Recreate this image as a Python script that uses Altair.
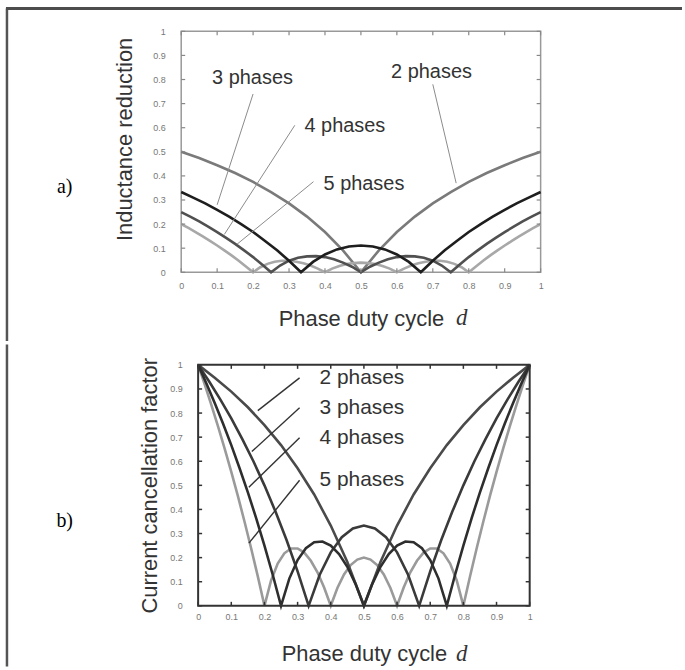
import altair as alt
import pandas as pd

# ---------------- data ----------------
tick_vals = [0, 0.1, 0.2, 0.3, 0.4, 0.5, 0.6, 0.7, 0.8, 0.9, 1]

d2 = [0, 0.05, 0.1, 0.15, 0.2, 0.25, 0.3, 0.35, 0.4, 0.45, 0.5,
      0.55, 0.6, 0.65, 0.7, 0.75, 0.8, 0.85, 0.9, 0.95, 1]
d3 = [0, 0.0333, 0.0667, 0.1, 0.1333, 0.1667, 0.2, 0.2333, 0.2667, 0.3, 0.3333,
      0.3667, 0.4, 0.4333, 0.4667, 0.5, 0.5333, 0.5667, 0.6, 0.6333, 0.6667,
      0.7, 0.7333, 0.7667, 0.8, 0.8333, 0.8667, 0.9, 0.9333, 0.9667, 1]
d4 = [0, 0.025, 0.05, 0.075, 0.1, 0.125, 0.15, 0.175, 0.2, 0.225, 0.25,
      0.275, 0.3, 0.325, 0.35, 0.375, 0.4, 0.425, 0.45, 0.475, 0.5,
      0.525, 0.55, 0.575, 0.6, 0.625, 0.65, 0.675, 0.7, 0.725, 0.75,
      0.775, 0.8, 0.825, 0.85, 0.875, 0.9, 0.925, 0.95, 0.975, 1]
d5 = [0, 0.02, 0.04, 0.06, 0.08, 0.1, 0.12, 0.14, 0.16, 0.18, 0.2,
      0.22, 0.24, 0.26, 0.28, 0.3, 0.32, 0.34, 0.36, 0.38, 0.4,
      0.42, 0.44, 0.46, 0.48, 0.5, 0.52, 0.54, 0.56, 0.58, 0.6,
      0.62, 0.64, 0.66, 0.68, 0.7, 0.72, 0.74, 0.76, 0.78, 0.8,
      0.82, 0.84, 0.86, 0.88, 0.9, 0.92, 0.94, 0.96, 0.98, 1]

# (a) inductance reduction
ind2 = [0.5, 0.474, 0.444, 0.412, 0.375, 0.333, 0.286, 0.231, 0.167, 0.091, 0,
        0.091, 0.167, 0.231, 0.286, 0.333, 0.375, 0.412, 0.444, 0.474, 0.5]
ind3 = [0.333, 0.310, 0.286, 0.259, 0.231, 0.2, 0.167, 0.130, 0.091, 0.048, 0,
        0.043, 0.074, 0.095, 0.107, 0.111, 0.107, 0.095, 0.074, 0.043, 0,
        0.048, 0.091, 0.130, 0.167, 0.2, 0.231, 0.259, 0.286, 0.310, 0.333]
ind4 = [0.25, 0.231, 0.211, 0.189, 0.167, 0.143, 0.118, 0.091, 0.063, 0.032, 0,
        0.028, 0.048, 0.06, 0.066, 0.067, 0.063, 0.054, 0.04, 0.023, 0,
        0.023, 0.04, 0.054, 0.063, 0.067, 0.066, 0.06, 0.048, 0.028, 0,
        0.032, 0.063, 0.091, 0.118, 0.143, 0.167, 0.189, 0.211, 0.231, 0.25]
ind5 = [0.2, 0.184, 0.167, 0.149, 0.130, 0.111, 0.091, 0.070, 0.048, 0.024, 0,
        0.021, 0.035, 0.044, 0.048, 0.048, 0.044, 0.037, 0.028, 0.015, 0,
        0.015, 0.026, 0.034, 0.038, 0.04, 0.038, 0.034, 0.026, 0.015, 0,
        0.015, 0.028, 0.037, 0.044, 0.048, 0.048, 0.044, 0.035, 0.021, 0,
        0.024, 0.048, 0.070, 0.091, 0.111, 0.130, 0.149, 0.167, 0.184, 0.2]

# (b) current cancellation factor
cur2 = [1, 0.947, 0.889, 0.824, 0.75, 0.667, 0.571, 0.462, 0.333, 0.182, 0,
        0.182, 0.333, 0.462, 0.571, 0.667, 0.75, 0.824, 0.889, 0.947, 1]
cur3 = [1, 0.931, 0.857, 0.778, 0.692, 0.6, 0.5, 0.391, 0.273, 0.143, 0,
        0.129, 0.222, 0.285, 0.321, 0.333, 0.321, 0.285, 0.222, 0.129, 0,
        0.143, 0.273, 0.391, 0.5, 0.6, 0.692, 0.778, 0.857, 0.931, 1]
cur4 = [1, 0.923, 0.842, 0.757, 0.667, 0.571, 0.471, 0.364, 0.25, 0.129, 0,
        0.113, 0.19, 0.239, 0.264, 0.267, 0.25, 0.215, 0.162, 0.09, 0,
        0.09, 0.162, 0.215, 0.25, 0.267, 0.264, 0.239, 0.19, 0.113, 0,
        0.129, 0.25, 0.364, 0.471, 0.571, 0.667, 0.757, 0.842, 0.923, 1]
cur5 = [1, 0.918, 0.833, 0.745, 0.652, 0.556, 0.455, 0.349, 0.238, 0.122, 0,
        0.105, 0.175, 0.218, 0.238, 0.238, 0.221, 0.187, 0.139, 0.076, 0,
        0.074, 0.13, 0.169, 0.192, 0.2, 0.192, 0.169, 0.13, 0.074, 0,
        0.076, 0.139, 0.187, 0.221, 0.238, 0.238, 0.218, 0.175, 0.105, 0,
        0.122, 0.238, 0.349, 0.455, 0.556, 0.652, 0.745, 0.833, 0.918, 1]

# annotation labels and leader lines
labels = ["2 phases", "3 phases", "4 phases", "5 phases"]
lab_a_x = [0.584, 0.086, 0.343, 0.396]
lab_a_y = [0.83, 0.806, 0.607, 0.368]
lead_a_x1 = [0.70, 0.20, 0.316, 0.368]
lead_a_y1 = [0.78, 0.74, 0.61, 0.376]
lead_a_x2 = [0.765, 0.10, 0.12, 0.155]
lead_a_y2 = [0.37, 0.28, 0.157, 0.116]

lab_b_x = [0.366, 0.366, 0.366, 0.366]
lab_b_y = [0.946, 0.822, 0.698, 0.521]
lead_b_x1 = [0.306, 0.306, 0.306, 0.306]
lead_b_y1 = [0.946, 0.822, 0.698, 0.521]
lead_b_x2 = [0.18, 0.162, 0.153, 0.153]
lead_b_y2 = [0.81, 0.64, 0.492, 0.26]

SANS = "Liberation Sans"
SERIF = "Liberation Serif"

WA, HA = 361, 242          # panel a plot area
SB = 17                    # panel b plot starts 17 px right of panel a
WB, HB = 333, 242          # panel b plot area

xs_a = alt.Scale(domain=[0, 1], nice=False, zero=False)
ys_a = alt.Scale(domain=[0, 1], nice=False, zero=False)
xs_b = alt.Scale(domain=[0, 1], range=[SB, SB + WB], nice=False, zero=False)
ys_b = alt.Scale(domain=[0, 1], nice=False, zero=False)


def make_axis_x(label_pad, title_x, title_y):
    return alt.Axis(values=tick_vals, format="~g", title="Phase duty cycle",
                    domain=False, ticks=False, tickSize=0, grid=False,
                    labelFont=SANS, labelFontSize=9, labelColor="#777",
                    labelPadding=label_pad, labelFlush=False,
                    titleFont=SANS, titleFontSize=22, titleFontWeight="normal",
                    titleColor="#333", titleX=title_x, titleY=title_y,
                    titleAlign="center", titleBaseline="middle")


def make_axis_y(title, label_pad, title_x, title_y, offset=0):
    return alt.Axis(values=tick_vals, format="~g", title=title,
                    domain=False, ticks=False, tickSize=0, grid=False,
                    labelFont=SANS, labelFontSize=9, labelColor="#777",
                    labelPadding=label_pad, labelFlush=False, offset=offset,
                    titleFont=SANS, titleFontSize=22, titleFontWeight="normal",
                    titleColor="#333", titleAngle=270, titleAlign="center",
                    titleBaseline="middle", titleX=title_x, titleY=title_y)


AX_A = make_axis_x(9, WA / 2, 46)
AY_A = make_axis_y("Inductance reduction", 16, -57, 108)
AX_B = make_axis_x(7, SB + WB / 2, 48)
AY_B = make_axis_y("Current cancellation factor", 16, -49, 121, offset=-SB)


def X(field, scale, axis):
    return alt.X(field, type="quantitative", scale=scale, axis=axis)


def Y(field, scale, axis):
    return alt.Y(field, type="quantitative", scale=scale, axis=axis)


def line_layer(dv, vv, color, xs, ys, ax, ay):
    df = pd.DataFrame({"d": dv, "v": vv})
    return alt.Chart(df).mark_line(color=color, strokeWidth=2.6).encode(
        x=X("d", xs, ax), y=Y("v", ys, ay))


def tick_layers(x0, W, H, color, width, xs, ys, ax, ay):
    tdf = pd.DataFrame({"t": tick_vals})
    L = 4
    m = dict(color=color, strokeWidth=width)
    return [
        alt.Chart(tdf).mark_rule(**m).encode(x=X("t", xs, ax), y=alt.value(H), y2=alt.value(H - L)),
        alt.Chart(tdf).mark_rule(**m).encode(x=X("t", xs, ax), y=alt.value(0), y2=alt.value(L)),
        alt.Chart(tdf).mark_rule(**m).encode(y=Y("t", ys, ay), x=alt.value(x0), x2=alt.value(x0 + L)),
        alt.Chart(tdf).mark_rule(**m).encode(y=Y("t", ys, ay), x=alt.value(x0 + W), x2=alt.value(x0 + W - L)),
    ]


one = pd.DataFrame({"k": [0]})

# ---------------- panel a ----------------
la = [
    line_layer(d2, ind2, "#7a7a7a", xs_a, ys_a, AX_A, AY_A),
    line_layer(d5, ind5, "#a8a8a8", xs_a, ys_a, AX_A, AY_A),
    line_layer(d4, ind4, "#505050", xs_a, ys_a, AX_A, AY_A),
    line_layer(d3, ind3, "#1e1e1e", xs_a, ys_a, AX_A, AY_A),
]
lead_a = pd.DataFrame({"x1": lead_a_x1, "y1": lead_a_y1, "x2": lead_a_x2, "y2": lead_a_y2})
la.append(alt.Chart(lead_a).mark_rule(color="#8a8a8a", strokeWidth=1).encode(
    x=X("x1", xs_a, AX_A), y=Y("y1", ys_a, AY_A), x2="x2:Q", y2="y2:Q"))
labs_a = pd.DataFrame({"lab": labels, "lx": lab_a_x, "ly": lab_a_y})
la.append(alt.Chart(labs_a).mark_text(font=SANS, fontSize=20, color="#333",
                                       align="left", baseline="middle").encode(
    x=X("lx", xs_a, AX_A), y=Y("ly", ys_a, AY_A), text="lab:N"))
la += tick_layers(0, WA, HA, "#888", 1.2, xs_a, ys_a, AX_A, AY_A)
la.append(alt.Chart(one).mark_text(text="a)", font=SERIF, fontSize=20, color="#000",
                                    align="center", baseline="middle").encode(
    x=alt.value(-117), y=alt.value(156)))
la.append(alt.Chart(one).mark_text(text="d", font=SERIF, fontStyle="italic", fontSize=23,
                                    color="#333", align="left", baseline="middle").encode(
    x=alt.value(276), y=alt.value(288)))
# outer box (top & left edges)
la.append(alt.Chart(one).mark_rule(color="#555", strokeWidth=2.5).encode(
    x=alt.value(-175), y=alt.value(-23), y2=alt.value(311)))
la.append(alt.Chart(one).mark_rule(color="#4d4d4d", strokeWidth=3).encode(
    y=alt.value(-23), x=alt.value(-176), x2=alt.value(503)))

panel_a = alt.layer(*la).properties(
    width=WA, height=HA,
    view=alt.ViewBackground(stroke="#999", strokeWidth=1.5))

# ---------------- panel b ----------------
lb = [
    line_layer(d5, cur5, "#9a9a9a", xs_b, ys_b, AX_B, AY_B),
    line_layer(d2, cur2, "#4a4a4a", xs_b, ys_b, AX_B, AY_B),
    line_layer(d3, cur3, "#3a3a3a", xs_b, ys_b, AX_B, AY_B),
    line_layer(d4, cur4, "#2e2e2e", xs_b, ys_b, AX_B, AY_B),
]
lead_b = pd.DataFrame({"x1": lead_b_x1, "y1": lead_b_y1, "x2": lead_b_x2, "y2": lead_b_y2})
lb.append(alt.Chart(lead_b).mark_rule(color="#333", strokeWidth=1.4).encode(
    x=X("x1", xs_b, AX_B), y=Y("y1", ys_b, AY_B), x2="x2:Q", y2="y2:Q"))
labs_b = pd.DataFrame({"lab": labels, "lx": lab_b_x, "ly": lab_b_y})
lb.append(alt.Chart(labs_b).mark_text(font=SANS, fontSize=21, color="#333",
                                       align="left", baseline="middle").encode(
    x=X("lx", xs_b, AX_B), y=Y("ly", ys_b, AY_B), text="lab:N"))
lb += tick_layers(SB, WB, HB, "#333", 1.5, xs_b, ys_b, AX_B, AY_B)
# frame of panel b
lb.append(alt.Chart(one).mark_rect(filled=False, stroke="#333", strokeWidth=2).encode(
    x=alt.value(SB), x2=alt.value(SB + WB), y=alt.value(0), y2=alt.value(HB)))
lb.append(alt.Chart(one).mark_text(text="b)", font=SERIF, fontSize=20, color="#000",
                                    align="center", baseline="middle").encode(
    x=alt.value(-117), y=alt.value(157)))
lb.append(alt.Chart(one).mark_text(text="d", font=SERIF, fontStyle="italic", fontSize=23,
                                    color="#333", align="left", baseline="middle").encode(
    x=alt.value(276), y=alt.value(290)))
lb.append(alt.Chart(one).mark_rule(color="#555", strokeWidth=2.5).encode(
    x=alt.value(-175), y=alt.value(-20.5), y2=alt.value(303)))

panel_b = alt.layer(*lb).properties(
    width=SB + WB, height=HB,
    view=alt.ViewBackground(strokeOpacity=0))

chart = alt.concat(panel_a, panel_b, columns=1, spacing=0, bounds="full").properties(
    padding={"left": 3, "top": 4, "right": 0, "bottom": 0},
    background="white",
)

chart.save("out.html", embed_options={"renderer": "svg", "actions": False})
